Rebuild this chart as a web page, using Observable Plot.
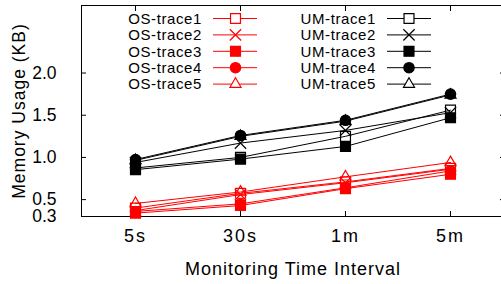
<!DOCTYPE html>
<html><head><meta charset="utf-8">
<script src="https://cdn.jsdelivr.net/npm/d3@7"></script>
<script src="https://cdn.jsdelivr.net/npm/@observablehq/plot@0.6"></script>
<style>
body{margin:0;background:#fff;}
#chart{position:relative;width:501px;height:284px;overflow:hidden;}
#chart svg{position:absolute;left:0;top:0;}
g[aria-label="x-axis tick label"] text{letter-spacing:2px;}
g[aria-label="x-axis label"] text, g[aria-label="y-axis label"] text{letter-spacing:1px;}
#legend text{font-family:"Liberation Sans",Arial,sans-serif;font-size:15px;letter-spacing:0.6px;}
</style></head><body><div id="chart"></div>
<script>
const intervals = ["5s", "30s", "1m", "5m"];
const yTicks = [0.3, 0.5, 1.0, 1.5, 2.0];
const seriesNames = ["OS-trace1","OS-trace2","OS-trace3","OS-trace4","OS-trace5","UM-trace1","UM-trace2","UM-trace3","UM-trace4","UM-trace5"];
const seriesSymbols = ["square","times","square","circle","triangle","square","times","square","circle","triangle"];
const seriesFilled = [false,false,true,true,false,false,false,true,true,false];
const osTrace1 = [0.40, 0.575, 0.71, 0.87];
const osTrace2 = [0.37, 0.56, 0.70, 0.86];
const osTrace3 = [0.34, 0.43, 0.63, 0.80];
const osTrace4 = [0.36, 0.45, 0.64, 0.84];
const osTrace5 = [0.455, 0.59, 0.77, 0.94];
const umTrace1 = [0.875, 1.00, 1.25, 1.56];
const umTrace2 = [0.94, 1.17, 1.32, 1.53];
const umTrace3 = [0.855, 0.98, 1.13, 1.47];
const umTrace4 = [0.975, 1.26, 1.44, 1.75];
const umTrace5 = [0.965, 1.25, 1.43, 1.74];
const seriesValues = [osTrace1, osTrace2, osTrace3, osTrace4, osTrace5, umTrace1, umTrace2, umTrace3, umTrace4, umTrace5];

const RED = "#ff0000", BLACK = "#000000";
const symR = {square: 5.6, times: 5.2, circle: 5.2, triangle: 4.1};
const series = seriesNames.map((name, i) => ({
  name, symbol: seriesSymbols[i], filled: seriesFilled[i],
  color: name.startsWith("OS") ? RED : BLACK,
  rows: intervals.map((t, j) => ({interval: t, value: seriesValues[i][j], name}))
}));

const marks = [];
series.forEach(s => marks.push(Plot.line(s.rows, {x: "interval", y: "value", stroke: s.color, strokeWidth: 1})));
series.forEach(s => marks.push(Plot.dot(s.rows, {
  x: "interval", y: "value", symbol: s.symbol, r: symR[s.symbol],
  stroke: s.color, strokeWidth: 1.2,
  fill: s.filled ? s.color : "none"
})));

const plot = Plot.plot({
  width: 501, height: 284,
  marginLeft: 81, marginRight: -3, marginTop: 5, marginBottom: 68,
  style: {fontFamily: '"Liberation Sans", Arial, sans-serif', fontSize: "18px", color: "#000", background: "#fff"},
  x: {type: "point", domain: intervals, padding: 0.5},
  y: {domain: [0.3, 2.8]},
  marks: [
    Plot.axisY({ticks: yTicks, tickSize: 0, tickPadding: 25, tickFormat: d3.format(".1f"), fontSize: 17.5, label: "Memory Usage (KB)", labelAnchor: "center", labelArrow: "none", labelOffset: 69}),
    Plot.axisY({anchor: "left", ticks: yTicks, tickSize: -5, tickFormat: () => "", label: null}),
    Plot.axisY({anchor: "right", ticks: yTicks, tickSize: -5, tickFormat: () => "", label: null}),
    Plot.axisX({anchor: "bottom", tickSize: 0, tickPadding: 13, label: "Monitoring Time Interval", labelAnchor: "center", labelArrow: "none", labelOffset: 58}),
    Plot.axisX({anchor: "bottom", tickSize: -5, tickFormat: () => "", label: null}),
    Plot.axisX({anchor: "top", tickSize: -5, tickFormat: () => "", label: null}),
    Plot.frame({stroke: BLACK, strokeWidth: 1}),
    ...marks
  ]
});
document.getElementById("chart").appendChild(plot);

// legend overlay
const leg = d3.select("#chart").append("svg").attr("id", "legend")
  .attr("width", 501).attr("height", 284);
const cols = [{textX: 202, x1: 213, x2: 257, mx: 235.5},
              {textX: 376, x1: 387, x2: 431, mx: 409}];
const sym = {square: d3.symbolSquare, times: d3.symbolTimes, circle: d3.symbolCircle, triangle: d3.symbolTriangle};
series.forEach((s, i) => {
  const c = cols[i < 5 ? 0 : 1];
  const y = 18.5 + (i % 5) * 16.4;
  const g = leg.append("g");
  g.append("text").attr("x", c.textX).attr("y", y).attr("text-anchor", "end").attr("dy", "0.35em").text(s.name);
  g.append("line").attr("x1", c.x1).attr("x2", c.x2).attr("y1", y).attr("y2", y).attr("stroke", s.color).attr("stroke-width", 1);
  const rr = symR[s.symbol];
  g.append("path").attr("transform", `translate(${c.mx},${y})`)
    .attr("d", d3.symbol(sym[s.symbol], Math.PI * rr * rr)())
    .attr("stroke", s.color).attr("stroke-width", 1.2)
    .attr("fill", s.filled ? s.color : (s.symbol === "times" ? "none" : "white"));
});
</script></body></html>
